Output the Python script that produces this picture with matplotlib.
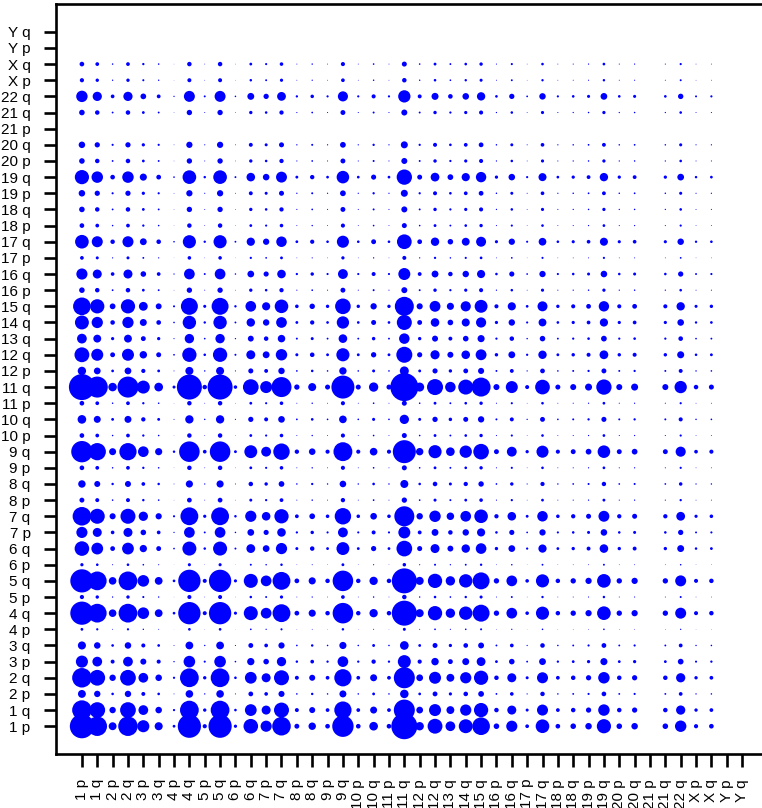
import numpy as np
import matplotlib
matplotlib.use("Agg")
import matplotlib.pyplot as plt

plt.rcParams['font.family'] = ['Liberation Sans', 'DejaVu Sans']

# chromosome arms, same order on both axes (1 p at the origin)
arms = ["1 p", "1 q", "2 p", "2 q", "3 p", "3 q", "4 p", "4 q", "5 p", "5 q",
        "6 p", "6 q", "7 p", "7 q", "8 p", "8 q", "9 p", "9 q", "10 p", "10 q",
        "11 p", "11 q", "12 p", "12 q", "13 q", "14 q", "15 q", "16 p", "16 q",
        "17 p", "17 q", "18 p", "18 q", "19 p", "19 q", "20 p", "20 q", "21 p",
        "21 q", "22 q", "X p", "X q", "Y p", "Y q"]

arm_weight = [26, 21, 8.5, 21, 13, 8.7, 3, 25, 4.5, 25,
              3.5, 15.7, 12, 20, 5.3, 8, 5, 23, 5, 9.3,
              5, 28, 9, 16, 10.5, 15, 19, 6, 12,
              4, 14.7, 5, 6, 7, 15.3, 6, 7, 0,
              6, 12.3, 4.5, 5, 0, 0]

w = np.array(arm_weight, dtype=float)
# cell value = product of the two arm weights
vals = np.outer(w, w)

n = len(arms)
pos = np.arange(1, n + 1)
xx, yy = np.meshgrid(pos, pos)   # rows -> y, cols -> x

fig = plt.figure(figsize=(7.62, 8.08), dpi=100)
ax = fig.add_axes([55.5 / 762, 54 / 808, 713 / 762, 750 / 808])

# dot diameter proportional to the value, biggest ~28 px
diam_px = vals / vals.max() * 28
diam_pt = diam_px * 72 / 100
mask = vals > 0
ax.scatter(xx[mask], yy[mask], s=diam_pt[mask] ** 2, c="#0000ff", linewidths=0)

pad = 0.04 * (n - 1)
ax.set_xlim(1 - pad, n + pad)
ax.set_ylim(1 - pad, n + pad)

ax.set_xticks(pos)
ax.set_xticklabels(arms, rotation=90)
ax.set_yticks(pos)
ax.set_yticklabels(arms)

for sp in ax.spines.values():
    sp.set_linewidth(1.9)
ax.tick_params(axis='both', length=9, width=1.9, labelsize=11, pad=9)

fig.savefig("out.png", dpi=100)
